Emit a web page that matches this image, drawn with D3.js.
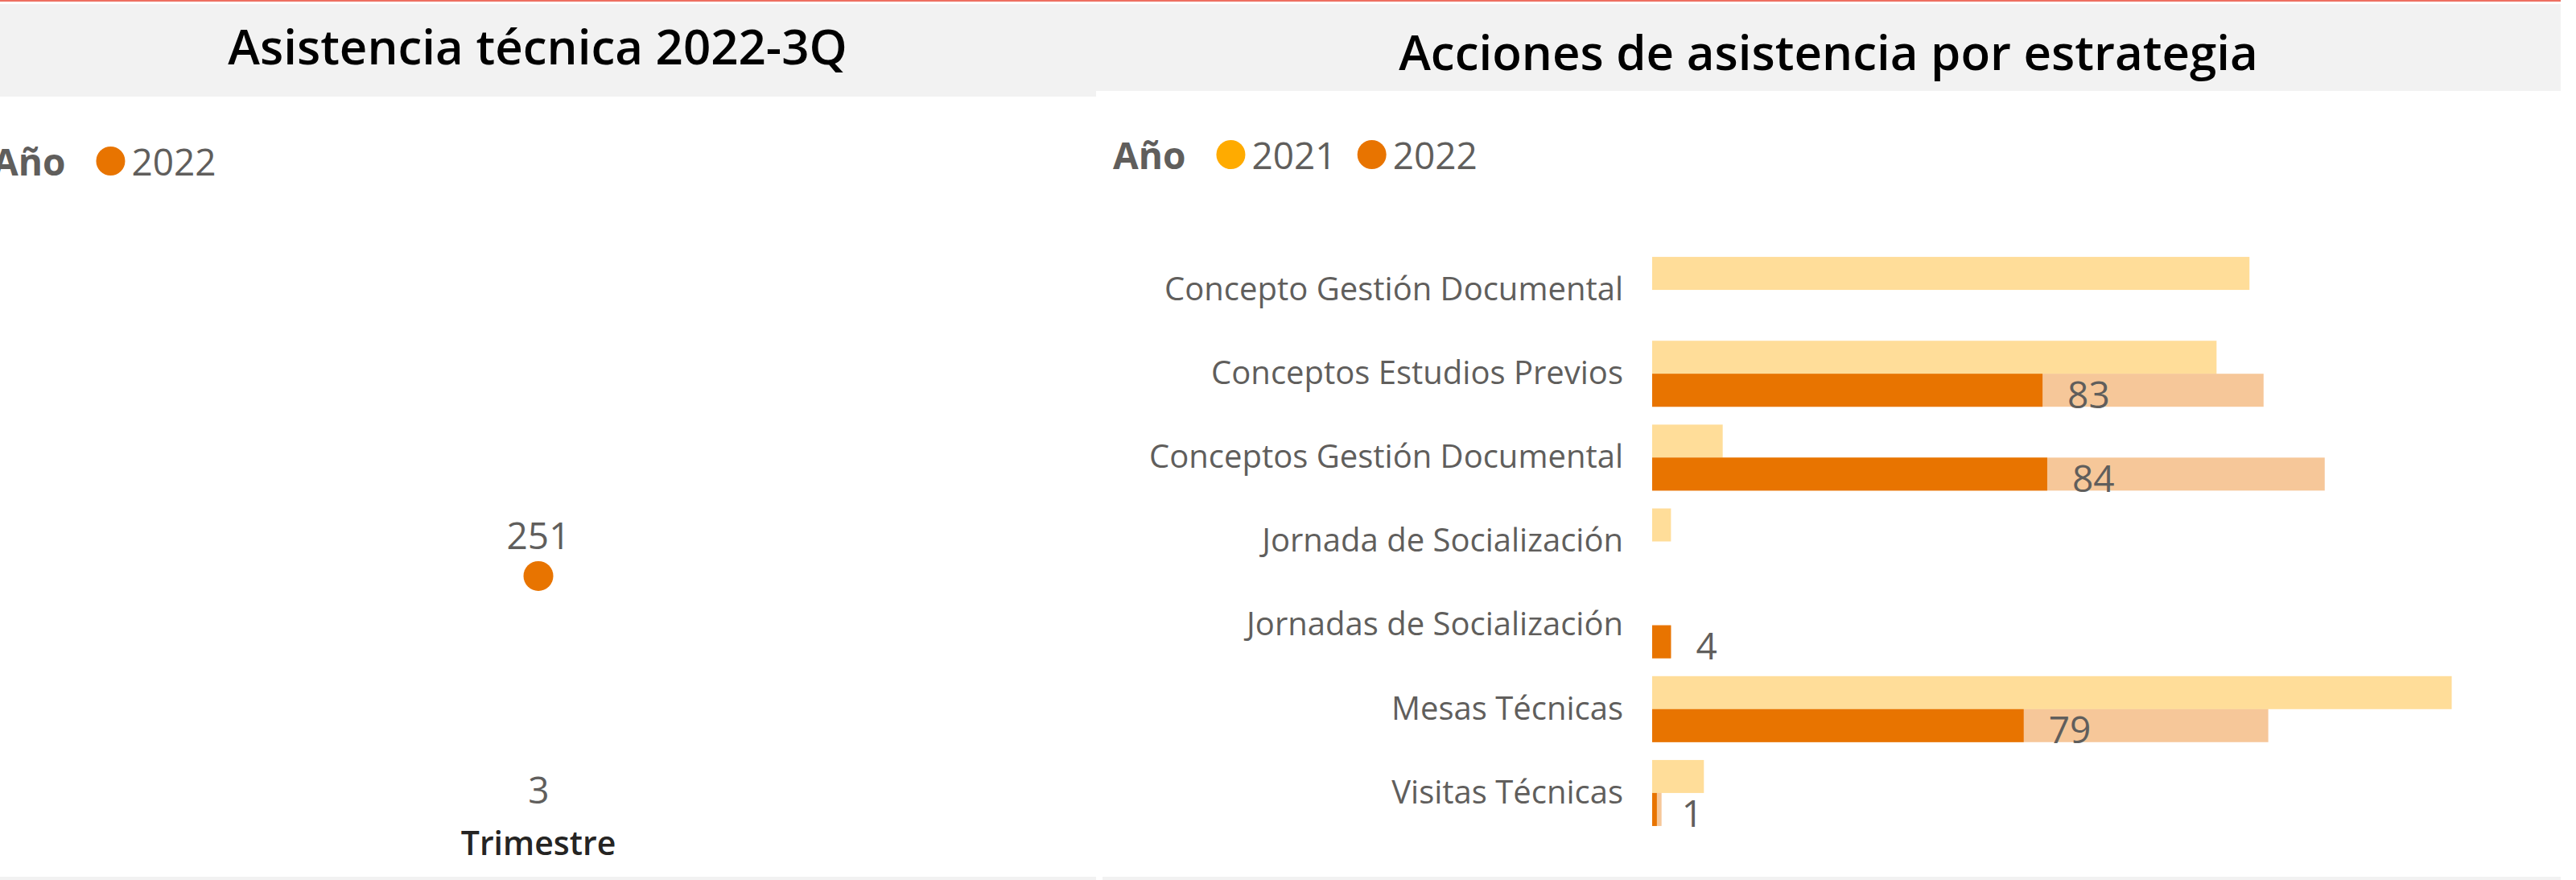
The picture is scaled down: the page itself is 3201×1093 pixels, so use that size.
<!DOCTYPE html>
<html lang="es">
<head>
<meta charset="utf-8">
<title>Asistencia técnica</title>
<script src="https://cdn.jsdelivr.net/npm/d3@7"></script>
<style>
    html, body { margin: 0; padding: 0; background: #ffffff; }
    svg { display: block; font-family: "Open Sans", "Noto Sans", sans-serif; }
</style>
</head>
<body>
<svg id="report" width="3201" height="1093"></svg>
<script>
// ============================================================================
// DATA
// ============================================================================

// Asistencia técnica por trimestre (2022)
const TRIMESTRES = ["3"];
const ASISTENCIAS_2022 = [251];
const LEGEND_LEFT = ["2022"];

// Acciones de asistencia por estrategia
const ESTRATEGIAS = [
    "Concepto Gestión Documental",
    "Conceptos Estudios Previos",
    "Conceptos Gestión Documental",
    "Jornada de Socialización",
    "Jornadas de Socialización",
    "Mesas Técnicas",
    "Visitas Técnicas"
];
const YEARS = ["2021", "2022"];
// full value per year (faded bar) and the highlighted part (solid bar + label)
const TOTAL_2021 = [127, 120, 15, 4, null, 170, 11];
const TOTAL_2022 = [null, 130, 143, null, 4, 131, 2];
const HIGHLIGHT_2021 = [null, null, null, null, null, null, null];
const HIGHLIGHT_2022 = [null, 83, 84, null, 4, 79, 1];

const YEAR_COLORS = { "2021": "#FFAB00", "2022": "#E87400" };
const TEXT_GRAY = "#605E5C";
const FONT = '"Open Sans", "Noto Sans", sans-serif';

// ============================================================================
// RENDERER
// ============================================================================

const ReportRenderer = {
    /**
     * Page chrome: red top rule, grey title bands, bottom strips
     */
    drawFrame(svg) {
        svg.append("rect")
            .attr("x", 0).attr("y", 0)
            .attr("width", 3182).attr("height", 2)
            .attr("fill", "#EE6F61");

        svg.append("rect")
            .attr("x", 0).attr("y", 5)
            .attr("width", 1362).attr("height", 115)
            .attr("fill", "#F2F2F2");

        svg.append("rect")
            .attr("x", 1362).attr("y", 5)
            .attr("width", 1820).attr("height", 108)
            .attr("fill", "#F2F2F2");

        svg.append("rect")
            .attr("x", 0).attr("y", 1089)
            .attr("width", 1362).attr("height", 4)
            .attr("fill", "#F2F2F2");

        svg.append("rect")
            .attr("x", 1370).attr("y", 1089)
            .attr("width", 1812).attr("height", 4)
            .attr("fill", "#F2F2F2");
    },

    drawTitle(svg, text, x, y) {
        svg.append("text")
            .attr("x", x)
            .attr("y", y)
            .attr("text-anchor", "middle")
            .style("font-size", "60px")
            .style("font-weight", "600")
            .style("fill", "#000000")
            .text(text);
    },

    /**
     * Legend: bold "Año" followed by dot + year entries
     * @param {Array} years - legend entries
     */
    drawLegend(svg, years, x, cy) {
        const g = svg.append("g");

        const label = g.append("text")
            .attr("x", x)
            .attr("y", cy + 18)
            .style("font-size", "46px")
            .style("font-weight", "700")
            .style("fill", TEXT_GRAY)
            .text("Año");

        let cursor = x + label.node().getComputedTextLength() + 38;

        years.forEach(year => {
            g.append("circle")
                .attr("cx", cursor + 18)
                .attr("cy", cy)
                .attr("r", 18)
                .attr("fill", YEAR_COLORS[year]);

            const t = g.append("text")
                .attr("x", cursor + 44)
                .attr("y", cy + 18)
                .style("font-size", "46px")
                .style("fill", TEXT_GRAY)
                .text(year);

            cursor += 44 + t.node().getComputedTextLength() + 26;
        });
    },

    /**
     * Line chart with a single quarter
     */
    drawQuarterChart(svg) {
        const x = d3.scalePoint()
            .domain(TRIMESTRES)
            .range([0, 1338])
            .padding(0.5);

        const y = d3.scaleLinear()
            .domain([0, 760])
            .range([940, 260]);

        const data = TRIMESTRES.map((q, i) => ({ q, value: ASISTENCIAS_2022[i] }));

        const g = svg.append("g");

        g.append("path")
            .datum(data)
            .attr("fill", "none")
            .attr("stroke", YEAR_COLORS["2022"])
            .attr("stroke-width", 4)
            .attr("d", d3.line().x(d => x(d.q)).y(d => y(d.value)));

        g.selectAll(".dot")
            .data(data)
            .enter()
            .append("circle")
            .attr("cx", d => x(d.q))
            .attr("cy", d => y(d.value))
            .attr("r", 18.5)
            .attr("fill", YEAR_COLORS["2022"]);

        g.selectAll(".value-label")
            .data(data)
            .enter()
            .append("text")
            .attr("x", d => x(d.q))
            .attr("y", d => y(d.value) - 33)
            .attr("text-anchor", "middle")
            .style("font-size", "46px")
            .style("fill", TEXT_GRAY)
            .text(d => d.value);

        const axis = g.append("g")
            .attr("transform", "translate(0,950)")
            .call(d3.axisBottom(x).tickSize(0).tickPadding(15))
            .attr("font-family", FONT);
        axis.select(".domain").remove();
        axis.selectAll("text")
            .style("font-family", FONT)
            .style("font-size", "46px")
            .style("fill", TEXT_GRAY);

        g.append("text")
            .attr("x", x(TRIMESTRES[0]))
            .attr("y", 1062)
            .attr("text-anchor", "middle")
            .style("font-size", "41px")
            .style("font-weight", "600")
            .style("fill", "#252423")
            .text("Trimestre");
    },

    /**
     * Clustered bar chart by strategy, with highlighted 2022 values
     */
    drawStrategyChart(svg) {
        const totals = { "2021": TOTAL_2021, "2022": TOTAL_2022 };
        const highlights = { "2021": HIGHLIGHT_2021, "2022": HIGHLIGHT_2022 };

        const rows = [];
        ESTRATEGIAS.forEach((name, i) => {
            YEARS.forEach(year => {
                rows.push({
                    name,
                    year,
                    total: totals[year][i],
                    highlight: highlights[year][i]
                });
            });
        });

        const y = d3.scaleBand()
            .domain(ESTRATEGIAS)
            .range([308, 1037])
            .paddingInner(0.2128)
            .paddingOuter(0.1064);

        const yYear = d3.scaleBand()
            .domain(YEARS)
            .range([0, y.bandwidth()]);

        const x = d3.scaleLinear()
            .domain([0, 180])
            .range([2053, 3105]);

        const g = svg.append("g");

        // Faded full values
        g.selectAll(".bar-total")
            .data(rows.filter(d => d.total != null))
            .enter()
            .append("rect")
            .attr("x", x(0))
            .attr("y", d => y(d.name) + yYear(d.year))
            .attr("width", d => x(d.total) - x(0))
            .attr("height", yYear.bandwidth())
            .attr("fill", d => YEAR_COLORS[d.year])
            .attr("fill-opacity", 0.4);

        // Highlighted values
        const highlighted = rows.filter(d => d.highlight != null);

        g.selectAll(".bar-highlight")
            .data(highlighted)
            .enter()
            .append("rect")
            .attr("x", x(0))
            .attr("y", d => y(d.name) + yYear(d.year))
            .attr("width", d => x(d.highlight) - x(0))
            .attr("height", yYear.bandwidth())
            .attr("fill", d => YEAR_COLORS[d.year]);

        g.selectAll(".bar-label")
            .data(highlighted)
            .enter()
            .append("text")
            .attr("x", d => x(d.highlight) + 31)
            .attr("y", d => y(d.name) + yYear(d.year) + yYear.bandwidth() / 2 + 22)
            .style("font-size", "46px")
            .style("fill", TEXT_GRAY)
            .text(d => d.highlight);

        // Category axis
        const axis = g.append("g")
            .attr("transform", `translate(${x(0)},0)`)
            .call(d3.axisLeft(y).tickSize(0).tickPadding(36))
            .attr("font-family", FONT);
        axis.select(".domain").remove();
        axis.selectAll("text")
            .style("font-family", FONT)
            .style("font-size", "40px")
            .style("fill", TEXT_GRAY);
    }
};

// ============================================================================
// MAIN
// ============================================================================

const svg = d3.select("#report");

ReportRenderer.drawFrame(svg);
ReportRenderer.drawTitle(svg, "Asistencia técnica 2022-3Q", 668, 80);
ReportRenderer.drawTitle(svg, "Acciones de asistencia por estrategia", 2272, 87);
ReportRenderer.drawLegend(svg, LEGEND_LEFT, -9, 200);
ReportRenderer.drawLegend(svg, YEARS, 1383, 192);
ReportRenderer.drawQuarterChart(svg);
ReportRenderer.drawStrategyChart(svg);
</script>
</body>
</html>
